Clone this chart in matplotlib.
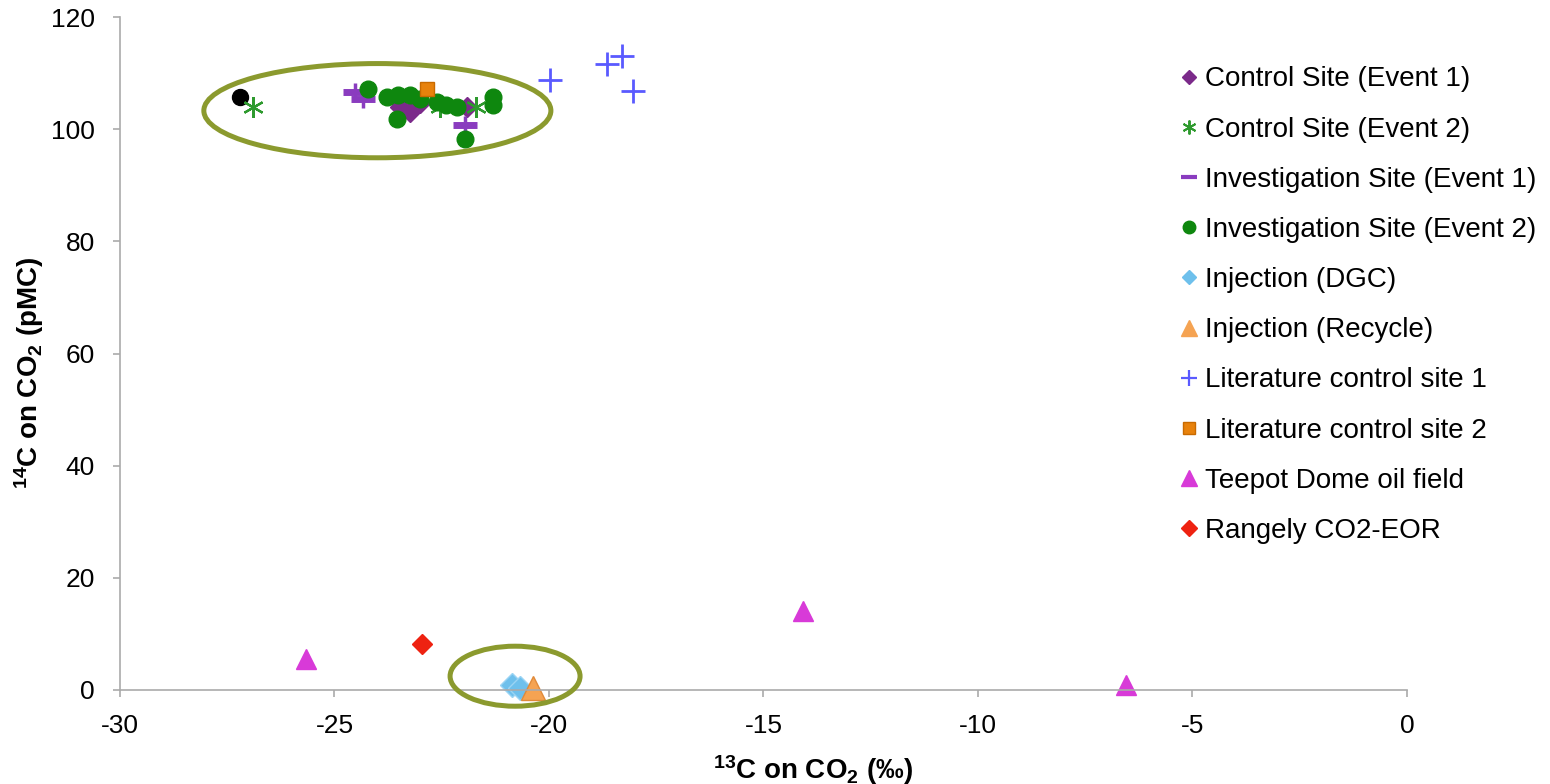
import numpy as np
import matplotlib
matplotlib.use("Agg")
import matplotlib.pyplot as plt
from matplotlib.patches import Ellipse
from matplotlib.lines import Line2D

plt.rcParams['font.family'] = ['Liberation Sans', 'DejaVu Sans']
# bold superscripts / subscripts in the axis labels
plt.rcParams['mathtext.fontset'] = 'custom'
plt.rcParams['mathtext.rm'] = 'Liberation Sans:bold'
plt.rcParams['mathtext.it'] = 'Liberation Sans:bold'
plt.rcParams['mathtext.bf'] = 'Liberation Sans:bold'

######################################################################
# values (d13C, 14C)
control_e1_x = [-23.47, -23.24, -23.0, -21.92]
control_e1_y = [104.0, 103.1, 104.6, 104.0]

control_e2_x = [-26.9, -22.54, -21.69]
control_e2_y = [104.0, 104.0, 104.0]

invest_e1_x = [-24.52, -24.33, -21.96]
invest_e1_y = [106.6, 105.4, 100.7]

invest_e2_x = [-24.21, -23.78, -23.51, -23.24, -23.0, -23.55,
               -22.62, -22.39, -22.15, -21.3, -21.3, -21.96]
invest_e2_y = [107.2, 105.8, 106.1, 106.1, 105.4, 101.9,
               104.9, 104.3, 104.0, 105.8, 104.3, 98.3]

dgc_x = [-20.87, -20.68]
dgc_y = [0.9, 0.3]

recycle_x = [-20.37]
recycle_y = [0.3]

lit1_x = [-19.98, -18.65, -18.3, -18.03]
lit1_y = [108.7, 111.7, 113.0, 106.8]

lit2_x = [-22.85]
lit2_y = [107.2]

teepot_x = [-25.66, -14.08, -6.55]
teepot_y = [5.5, 14.1, 0.9]

rangely_x = [-22.96]
rangely_y = [8.2]

# unlabelled black point at far left of the cluster
other_x = [-27.2]
other_y = [105.8]

labels = ['Control Site (Event 1)', 'Control Site (Event 2)',
          'Investigation Site (Event 1)', 'Investigation Site (Event 2)',
          'Injection (DGC)', 'Injection (Recycle)',
          'Literature control site 1', 'Literature control site 2',
          'Teepot Dome oil field', 'Rangely CO2-EOR']

x_ticks = [-30, -25, -20, -15, -10, -5, 0]
y_ticks = [0, 20, 40, 60, 80, 100, 120]

# circled groups: (centre x, centre y, width, height)
groups = [(-24.0, 103.3, 8.09, 16.8), (-20.79, 2.46, 3.03, 10.7)]

######################################################################
PURPLE = '#7b2a8a'
GREEN_STAR = '#2e9a2e'
VIOLET = '#8a3cbf'
GREEN = '#0e870e'
SKY = '#6ec0ec'
PEACH = '#f5a352'
BLUE = '#5a5aff'
ORANGE = '#e8820c'
MAGENTA = '#d83ad8'
RED = '#ee2211'
OLIVE = '#8b9a2e'

fig = plt.figure(figsize=(15.5, 7.84), dpi=100)
ax = fig.add_axes([0.0774, 0.1199, 0.8303, 0.8584])

ax.plot(other_x, other_y, 'o', color='black', ms=11.5, ls='none')
ax.plot(control_e1_x, control_e1_y, 'D', color=PURPLE, ms=10, ls='none')
ax.plot(control_e2_x, control_e2_y, marker=(6, 2, 0), color=GREEN_STAR,
        ms=15, mew=1.6, ls='none')
ax.plot(invest_e1_x, invest_e1_y, '|', color=VIOLET, ms=13, mew=2.5, ls='none')
ax.plot(invest_e1_x, invest_e1_y, '_', color=VIOLET, ms=17, mew=5, ls='none')
ax.plot(invest_e2_x, invest_e2_y, 'o', color=GREEN, ms=12, ls='none')
ax.plot(lit1_x, lit1_y, '+', color=BLUE, ms=17, mew=2, ls='none')
ax.plot(lit2_x, lit2_y, 's', color=ORANGE, mec='#c86a00', ms=9.5, ls='none')
ax.plot(teepot_x, teepot_y, '^', color=MAGENTA, ms=15, ls='none', clip_on=False)
ax.plot(rangely_x, rangely_y, 'D', color=RED, ms=10, ls='none')
ax.plot(dgc_x, dgc_y, 'D', color=SKY, mec='#9ad4f4', ms=12, ls='none', clip_on=False)
ax.plot(recycle_x, recycle_y, '^', color=PEACH, mec='#e08a3a', ms=17, ls='none',
        clip_on=False)

for cx, cy, w, h in groups:
    ax.add_patch(Ellipse((cx, cy), w, h, fill=False, ec=OLIVE, lw=3.6,
                         clip_on=False, zorder=5))

ax.set_xlim(-30, 0)
ax.set_ylim(0, 120)
ax.set_xticks(x_ticks)
ax.set_yticks(y_ticks)
ax.set_xticklabels([str(t) for t in x_ticks])
ax.set_yticklabels([str(t) for t in y_ticks])
ax.tick_params(axis='both', labelsize=19, color='#aaaaaa', length=5, width=1.2,
               direction='out')
ax.tick_params(axis='x', pad=12)
ax.tick_params(axis='y', pad=13)
for side in ['top', 'right']:
    ax.spines[side].set_visible(False)
for side in ['left', 'bottom']:
    ax.spines[side].set_color('#aaaaaa')
    ax.spines[side].set_linewidth(1.2)

ax.set_xlabel(r'$^{13}$C on CO$_2$ (‰)', fontsize=20, fontweight='bold', va='center')
ax.xaxis.set_label_coords(0.5245, 0.018, transform=fig.transFigure)
ax.set_ylabel(r'$^{14}$C on CO$_2$ (pMC)', fontsize=20, fontweight='bold', va='center')
ax.yaxis.set_label_coords(0.019, 0.524, transform=fig.transFigure)

# legend handles (smaller markers than on the chart)
handles = [
    Line2D([], [], ls='none', marker='D', color=PURPLE, ms=7),
    Line2D([], [], ls='none', marker=(6, 2, 0), color=GREEN_STAR, ms=10, mew=1.4),
    Line2D([], [], ls='none', marker='_', color=VIOLET, ms=12, mew=3),
    Line2D([], [], ls='none', marker='o', color=GREEN, ms=9),
    Line2D([], [], ls='none', marker='D', color=SKY, ms=7),
    Line2D([], [], ls='none', marker='^', color=PEACH, ms=11),
    Line2D([], [], ls='none', marker='+', color=BLUE, ms=12, mew=1.6),
    Line2D([], [], ls='none', marker='s', color=ORANGE, mec='#c86a00', ms=8),
    Line2D([], [], ls='none', marker='^', color=MAGENTA, ms=11),
    Line2D([], [], ls='none', marker='D', color=RED, ms=8),
]
fig.legend(handles, labels, loc='upper left', bbox_to_anchor=(0.753, 0.933),
           frameon=False, fontsize=20, handlelength=0.6, handletextpad=0.25,
           labelspacing=0.87, borderpad=0)

fig.savefig('out.png', dpi=100)
